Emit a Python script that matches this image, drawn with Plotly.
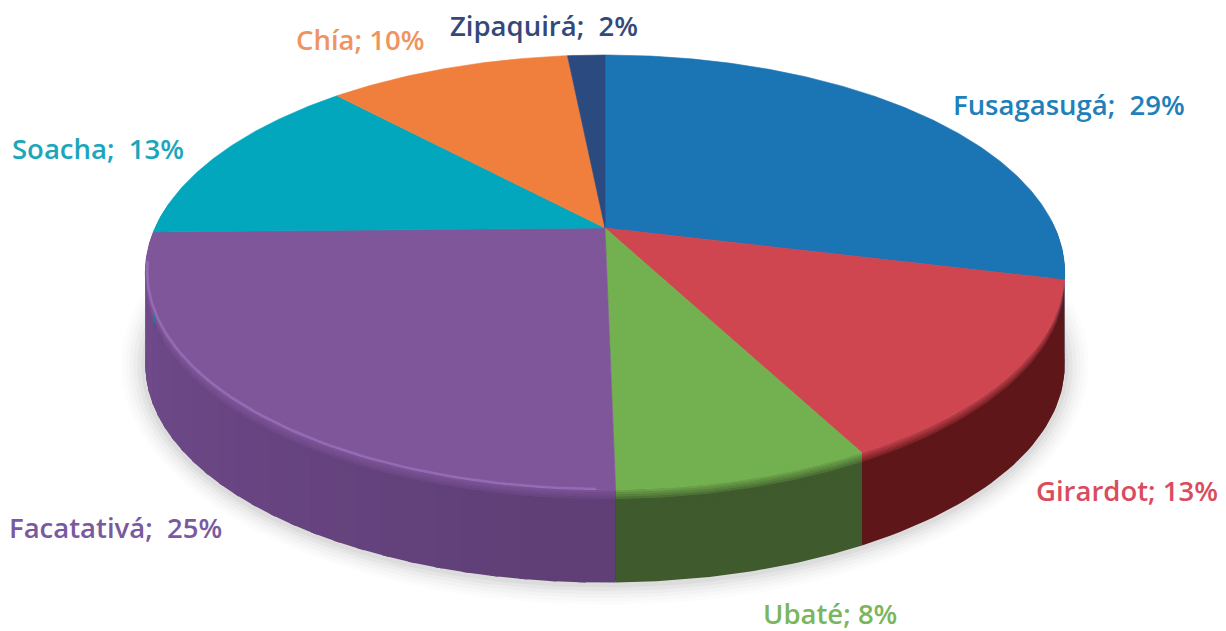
import numpy as np
import plotly.graph_objects as go

labels = ["Fusagasugá", "Girardot", "Ubaté", "Facatativá", "Soacha", "Chía", "Zipaquirá"]
percent_labels = [29, 13, 8, 25, 13, 10, 2]
shares = [28.8, 13.45, 7.45, 25.0, 13.3, 10.4, 1.6]
separators = ["&nbsp;&nbsp;", " ", " ", "&nbsp;&nbsp;", "&nbsp;&nbsp;", " ", "&nbsp;&nbsp;"]
top_colors = ["#1b74b4", "#cf4550", "#73b04f", "#80569b", "#02a6bd", "#f07f3d", "#2b4a80"]
wall_colors = ["#174f78", "#5e1619", "#3f5a2d", "#5f3f76", "#02707f", "#a0522a", "#1c3158"]
text_colors = ["#2180b9", "#d94c5e", "#7bb65d", "#7a5a9f", "#1ba6bc", "#f0945f", "#34497a"]
label_x = [1069, 1127, 830, 115, 98, 360, 544]
label_y = [104, 490, 613, 527, 148, 39, 25]

CX, CY, A, B, K, DEPTH = 605.0, 228.0, 450.0, 208.4, 0.2046, 92.0


def project(theta_deg):
    t = np.radians(theta_deg)
    u, v = np.sin(t), np.cos(t)
    w = 1 + K * v
    return CX + A * u / w, CY - B * v / w


def hex_rgb(h):
    return np.array([int(h[i:i + 2], 16) for i in (1, 3, 5)], dtype=float)


def mix(a, b, f):
    c = a + (b - a) * f
    return "rgb(%d,%d,%d)" % tuple(np.clip(c, 0, 255))


fig = go.Figure()


def poly(x, y, color, line=None, width=0.0):
    fig.add_trace(go.Scatter(
        x=list(x) + [x[0]], y=list(y) + [y[0]], mode="lines", fill="toself", fillcolor=color,
        line=dict(color=line or color, width=width), hoverinfo="skip", showlegend=False))


# soft ground shadow
ring = np.linspace(0, 360, 241)
rx, ry = project(ring)
for grow, alpha in [(24, 0.012), (20, 0.016), (16, 0.02), (12, 0.024), (8, 0.03), (4, 0.035)]:
    mx, my = CX, CY + 60
    sx = mx + (rx - mx) * (1 + grow / 460)
    sy = my + (ry - my) * (1 + grow / 230) + DEPTH + 2
    poly(sx, sy, "rgba(0,0,0,%.3f)" % alpha)

ends = np.cumsum(shares) / np.sum(shares) * 360
starts = np.concatenate([[0], ends[:-1]])

# dark underlay so slice seams do not show the page through
th = np.linspace(88, 277, 120)
x, y = project(th)
poly(np.r_[x, x[::-1]], np.r_[y, y[::-1] + DEPTH - 0.5], "#3a2a3c")

# side wall, front part only
rows = [0, 0.025, 0.05, 0.075, 0.1, 0.14, 1.0]
for i in range(len(shares)):
    a0, a1 = max(starts[i], 88), min(ends[i], 277)
    if a1 <= a0:
        continue
    n = max(1, int((a1 - a0) / 3)) if a1 > 200 else 1
    edges = np.linspace(a0, a1, n + 1)
    top = hex_rgb(top_colors[i])
    wall = hex_rgb(wall_colors[i])
    # later cells are painted over the overlap so no seam shows
    for j in range(n - 1, -1, -1):
        th = np.linspace(edges[j], min(edges[j + 1] + 0.8, a1), 4 if n > 1 else 40)
        x, y = project(th)
        mid = (edges[j] + edges[j + 1]) / 2
        side = 1 + 0.22 * max(0, (mid - 180) / 90)
        for r in range(len(rows) - 1):
            d0, d1 = rows[r] * DEPTH, rows[r + 1] * DEPTH
            f = min(1.0, rows[r + 1] / 0.14)
            col = mix(top, wall * side, f)
            poly(np.r_[x, x[::-1]], np.r_[y + d0, y[::-1] + d1 + 0.6], col)

# top face
for i in range(len(shares)):
    th = np.linspace(starts[i], ends[i], max(3, int(ends[i] - starts[i]) * 2))
    x, y = project(th)
    poly(np.r_[CX, x], np.r_[CY, y], top_colors[i], width=0.6)

# highlight on the purple rim
th = np.linspace(starts[3] + 2, ends[3] - 8, 80)
x, y = project(th)
fig.add_trace(go.Scatter(x=x + 2 * np.sin(np.radians(th - 180)), y=y - 1, mode="lines",
                         line=dict(color="rgba(160,125,200,0.55)", width=2.5),
                         hoverinfo="skip", showlegend=False))

for i in range(len(shares)):
    fig.add_annotation(x=label_x[i], y=label_y[i], showarrow=False,
                       text="%s;%s%d%%" % (labels[i], separators[i], percent_labels[i]),
                       font=dict(family="Open Sans", size=27.5, color=text_colors[i], weight=600))

fig.update_xaxes(visible=False, range=[0, 1226], fixedrange=True)
fig.update_yaxes(visible=False, range=[631, 0], fixedrange=True)
fig.update_layout(width=1226, height=631, margin=dict(l=0, r=0, t=0, b=0),
                  paper_bgcolor="white", plot_bgcolor="white", showlegend=False)
fig.write_html("out.html", config=dict(displayModeBar=False),
               post_script="document.body.style.margin='0';document.documentElement.style.overflow='hidden';")
